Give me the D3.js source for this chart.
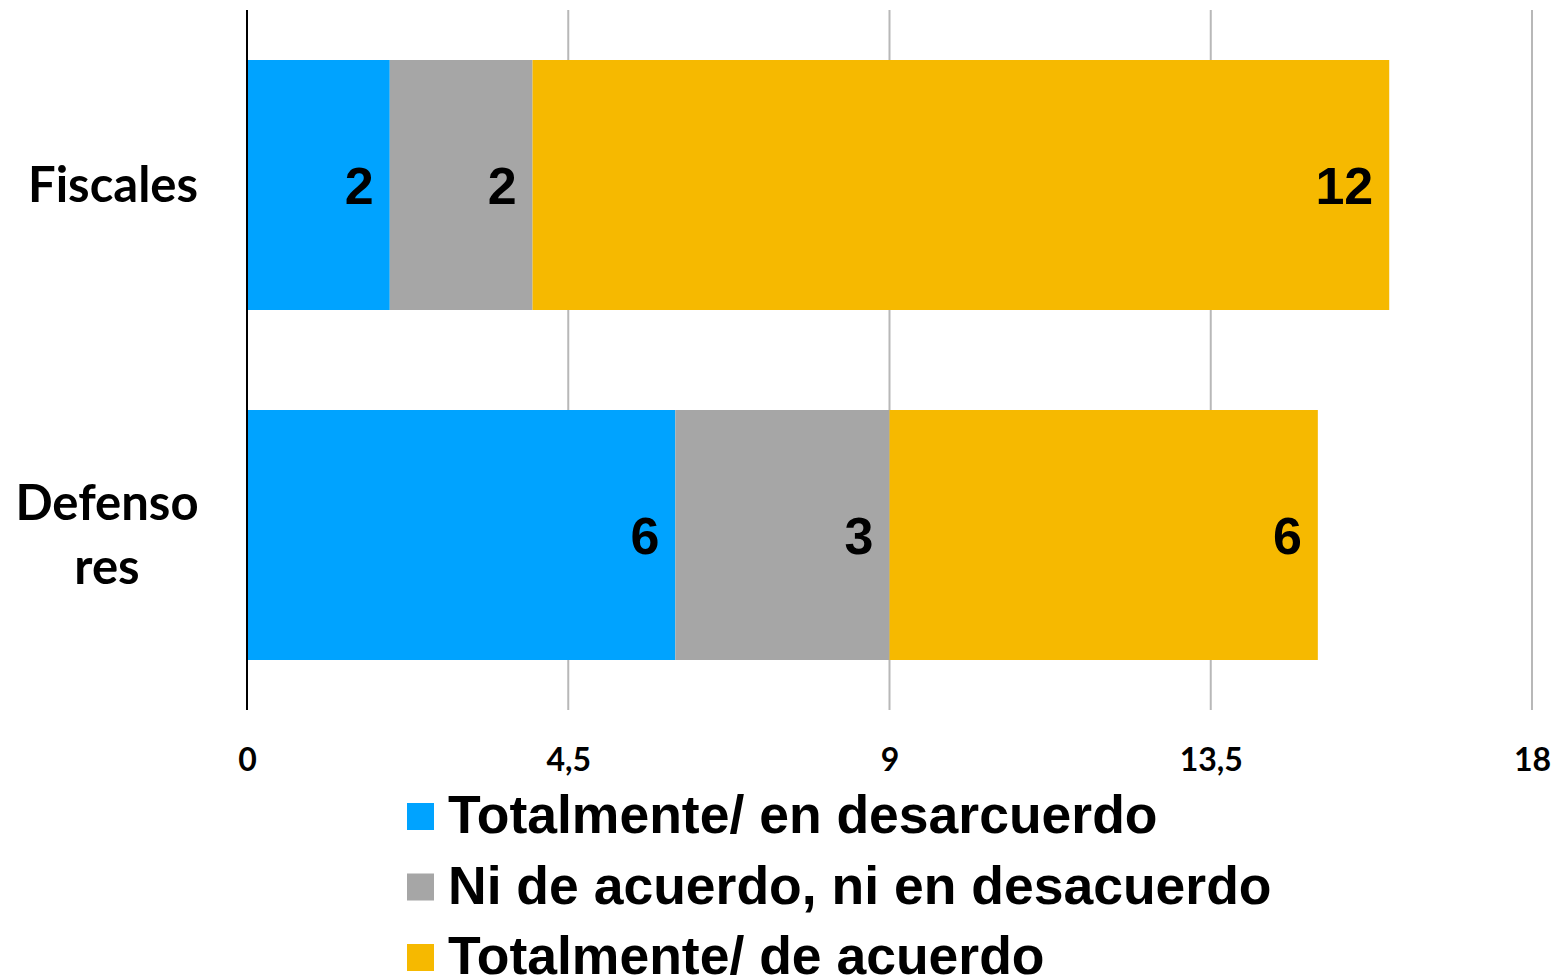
<!DOCTYPE html>
<html>
<head>
<meta charset="utf-8">
<script src="https://cdn.jsdelivr.net/npm/d3@7"></script>
<style>
  body { margin: 0; background: #fff; }
</style>
</head>
<body>
<script>
'use strict';

// chart data
const categories = ["Fiscales", "Defensores"];
const categoryLines = [["Fiscales"], ["Defenso", "res"]];
const seriesNames = ["Totalmente/ en desarcuerdo", "Ni de acuerdo, ni en desacuerdo", "Totalmente/ de acuerdo"];
const seriesColors = ["#00a3ff", "#a6a6a6", "#f6b900"];
const desacuerdo = [2, 6];
const neutral = [2, 3];
const acuerdo = [12, 6];
const tickValues = [0, 4.5, 9, 13.5, 18];

const width = 1553, height = 979;

const svg = d3.select('body')
  .append('svg')
  .attr('width', width)
  .attr('height', height);

// build rows for stacking
const rows = categories.map((c, i) => ({
  cat: c,
  s0: desacuerdo[i],
  s1: neutral[i],
  s2: acuerdo[i]
}));
const stack = d3.stack().keys(["s0", "s1", "s2"])(rows);

const x = d3.scaleLinear().domain([0, 18]).range([247, 1532]);
const y = d3.scaleBand().domain(categories).range([10, 710])
  .paddingInner(2 / 7).paddingOuter(1 / 7);

// gridlines
svg.append('g')
  .selectAll('line')
  .data(tickValues.slice(1))
  .enter()
  .append('line')
    .attr('x1', d => x(d))
    .attr('x2', d => x(d))
    .attr('y1', 10)
    .attr('y2', 710)
    .attr('stroke', '#b8b8b8')
    .attr('stroke-width', 2);

// bars
const layers = svg.append('g')
  .selectAll('g')
  .data(stack)
  .enter()
  .append('g')
    .attr('fill', (d, i) => seriesColors[i]);

layers.selectAll('rect')
  .data(d => d)
  .enter()
  .append('rect')
    .attr('x', d => x(d[0]))
    .attr('y', d => y(d.data.cat))
    .attr('width', d => x(d[1]) - x(d[0]))
    .attr('height', y.bandwidth());

// value labels inside the end of each segment
layers.selectAll('text')
  .data(d => d)
  .enter()
  .append('text')
    .attr('x', d => x(d[1]) - 16)
    .attr('y', d => y(d.data.cat) + y.bandwidth() / 2 + 19)
    .attr('text-anchor', 'end')
    .attr('fill', '#000')
    .style('font-family', 'Arial, "Liberation Sans", sans-serif')
    .style('font-weight', 'bold')
    .style('font-size', '52px')
    .text(d => d[1] - d[0]);

// zero axis line
svg.append('line')
  .attr('x1', x(0)).attr('x2', x(0))
  .attr('y1', 10).attr('y2', 710)
  .attr('stroke', '#000')
  .attr('stroke-width', 2);

// x tick labels
const xAxis = d3.axisBottom(x)
  .tickValues(tickValues)
  .tickSize(0)
  .tickPadding(0)
  .tickFormat(d => String(d).replace('.', ','));
const xg = svg.append('g')
  .attr('transform', 'translate(0, 771)')
  .call(xAxis);
xg.select('.domain').remove();
xg.selectAll('text')
  .attr('dy', 0)
  .attr('fill', '#000')
  .style('font-family', 'Lato, "Open Sans", sans-serif')
  .style('font-weight', 'bold')
  .style('font-size', '32px');

// category labels
const lineGap = 64;
categories.forEach((c, i) => {
  const lines = categoryLines[i];
  const mid = y(c) + y.bandwidth() / 2;
  const first = mid + 17 - (lines.length - 1) * lineGap / 2;
  const t = svg.append('text')
    .attr('text-anchor', 'middle')
    .attr('fill', '#000')
    .style('font-family', 'Lato, "Open Sans", sans-serif')
    .style('font-weight', 'bold')
    .style('font-size', '49px');
  lines.forEach((ln, j) => {
    t.append('tspan')
      .attr('x', lines.length > 1 ? 107 : 113)
      .attr('y', first + j * lineGap)
      .text(ln);
  });
});

// legend
const legend = svg.append('g').attr('class', 'legend');
seriesNames.forEach((name, i) => {
  const ly = 833 + i * 70.5;
  legend.append('rect')
    .attr('x', 407)
    .attr('y', ly - 30)
    .attr('width', 27)
    .attr('height', 27)
    .attr('fill', seriesColors[i]);
  legend.append('text')
    .attr('x', 448)
    .attr('y', ly)
    .attr('fill', '#000')
    .style('font-family', 'Arial, "Liberation Sans", sans-serif')
    .style('font-weight', 'bold')
    .style('font-size', '53.5px')
    .text(name);
});
</script>
</body>
</html>
